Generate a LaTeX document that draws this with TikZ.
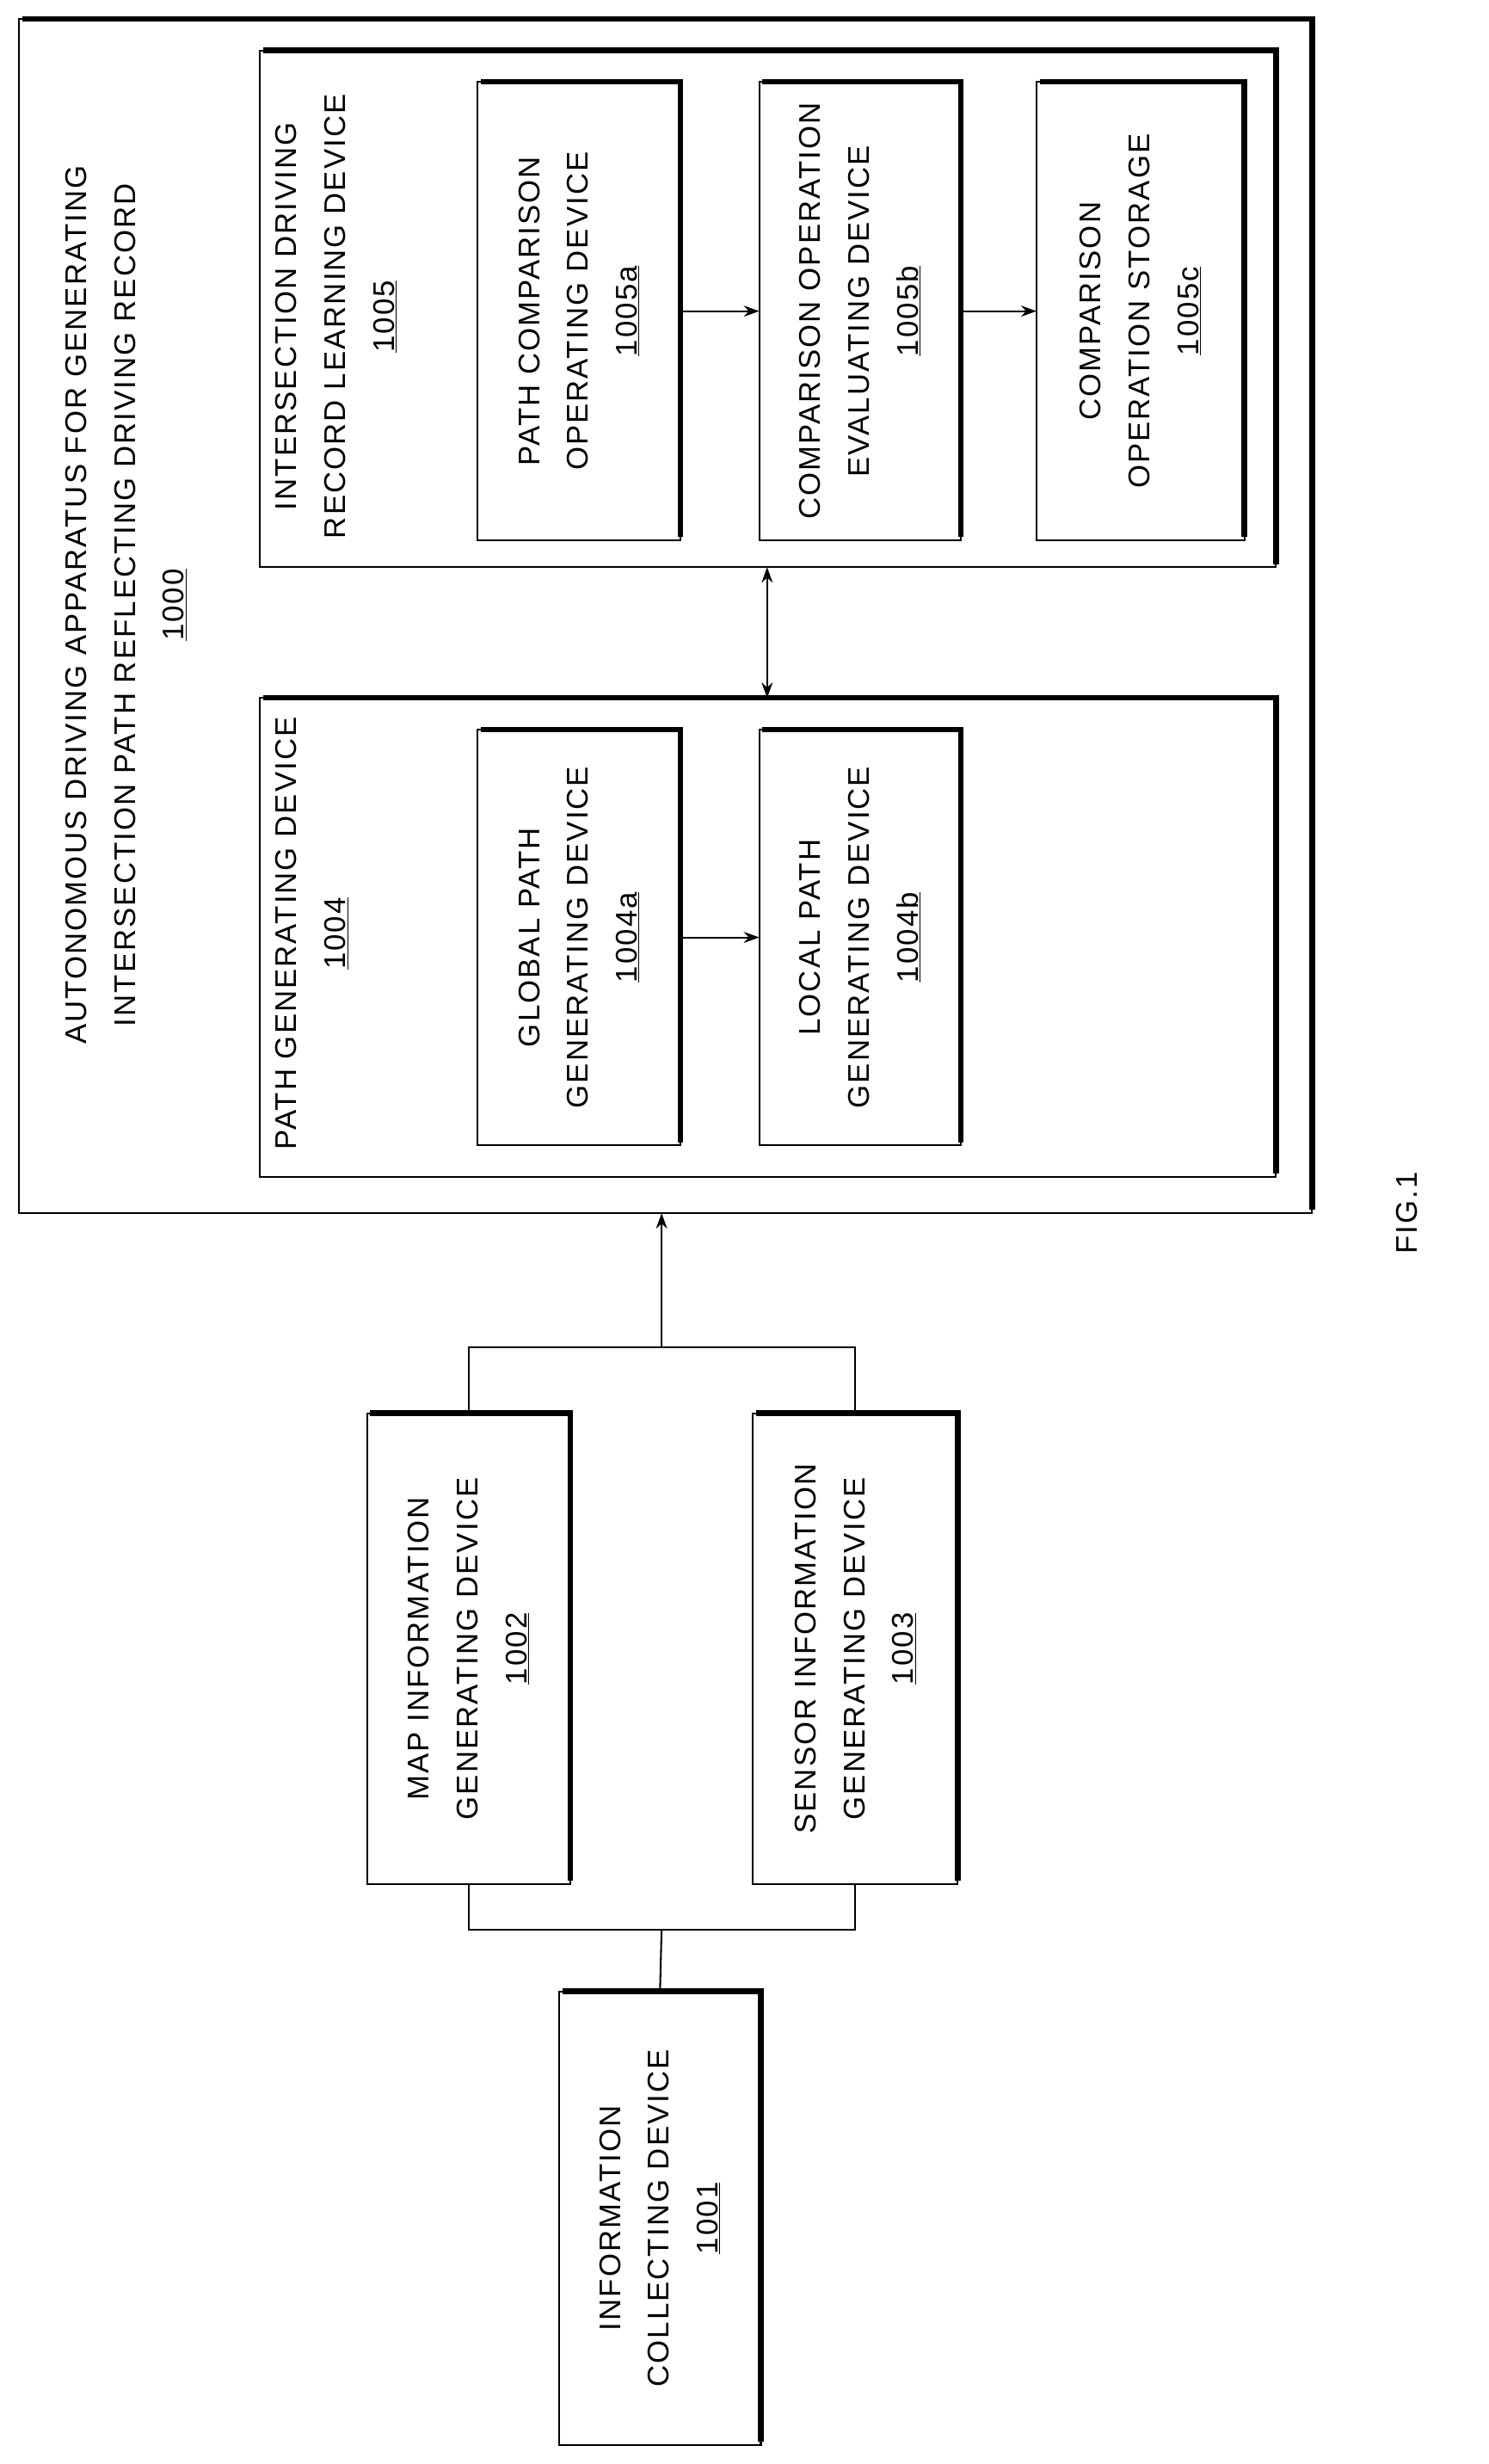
\documentclass[tikz,border=0pt]{standalone}
\usepackage{fontspec}
\setmainfont{Liberation Sans}[LetterSpace=6]
\usetikzlibrary{arrows.meta}
\tikzset{
 bx/.style={draw,line width=1.6pt,inner sep=0pt},
 thk/.style={line width=5pt},
 lab/.style={rotate=90,align=center,font=\fontsize{27}{44}\selectfont,inner sep=0pt},
 arr/.style={line width=1.6pt,-{Stealth[length=14pt,width=10pt]}},
 darr/.style={line width=1.6pt,{Stealth[length=14pt,width=10pt]}-{Stealth[length=14pt,width=10pt]}},
 ln/.style={line width=1.6pt}
}
\newcommand{\dbox}[5]{% name x1 y1 x2 y2
 \draw[bx] (#2,#3) rectangle (#4,#5);
 \coordinate (#1) at ({(#2+#4)/2},{(#3+#5)/2});
 \coordinate (#1-n) at ({(#2+#4)/2},#3);
 \coordinate (#1-s) at ({(#2+#4)/2},#5);
 \coordinate (#1-w) at (#2,{(#3+#5)/2});
 \coordinate (#1-e) at (#4,{(#3+#5)/2});
 \draw[thk] (#2+2,#3) -- (#4,#3) -- (#4,#5-2);}
\begin{document}
\begin{tikzpicture}[x=0.5mm,y=-0.5mm]
\useasboundingbox (0,0) rectangle (945,1564);
\dbox{o}{12}{12}{833}{770}
\node[lab] (ol) at (80,384) {AUTONOMOUS DRIVING APPARATUS FOR GENERATING\\INTERSECTION PATH REFLECTING DRIVING RECORD\\\underline{1000}};
\dbox{b5}{165}{32}{810}{360}
\node[lab,anchor=north west] (l5) at (175,342) {INTERSECTION DRIVING\\RECORD LEARNING DEVICE\\\underline{1005}};
\dbox{a}{303}{52}{432}{343}
\node[lab] (la) at (a) {PATH COMPARISON\\OPERATING DEVICE\\\underline{1005a}};
\dbox{b}{482}{52}{610}{343}
\node[lab] (lb) at (b) {COMPARISON OPERATION\\EVALUATING DEVICE\\\underline{1005b}};
\dbox{c}{658}{52}{790}{343}
\node[lab] (lc) at (c) {COMPARISON\\OPERATION STORAGE\\\underline{1005c}};
\dbox{b4}{165}{443}{810}{747}
\node[lab,anchor=north west] (l4) at (175,730) {PATH GENERATING DEVICE\\\underline{1004}};
\dbox{g}{303}{463}{432}{727}
\node[lab] (lg) at (g) {GLOBAL PATH\\GENERATING DEVICE\\\underline{1004a}};
\dbox{l}{482}{463}{610}{727}
\node[lab] (ll) at (l) {LOCAL PATH\\GENERATING DEVICE\\\underline{1004b}};
\dbox{m}{233}{897}{362}{1196}
\node[lab] (lm) at (m) {MAP INFORMATION\\GENERATING DEVICE\\\underline{1002}};
\dbox{s}{478}{897}{608}{1196}
\node[lab] (ls) at (s) {SENSOR INFORMATION\\GENERATING DEVICE\\\underline{1003}};
\dbox{i}{355}{1264}{483}{1552}
\node[lab] (li) at (i) {INFORMATION\\COLLECTING DEVICE\\\underline{1001}};
\node[lab] (fig) at (893,770) {FIG.1};
\draw[arr] (a-e) -- (b-w);
\draw[arr] (b-e) -- (c-w);
\draw[arr] (g-e) -- (l-w);
\draw[darr] (487,360) -- (487,443);
\coordinate (tj) at (420,855);
\coordinate (bj) at (420,1225);
\draw[ln] (m-n) |- (tj) -| (s-n);
\draw[ln] (m-s) |- (bj) -| (s-s);
\draw[arr] (tj) -- (420,770);
\draw[ln] (bj) -- (i-n);
\end{tikzpicture}
\end{document}
